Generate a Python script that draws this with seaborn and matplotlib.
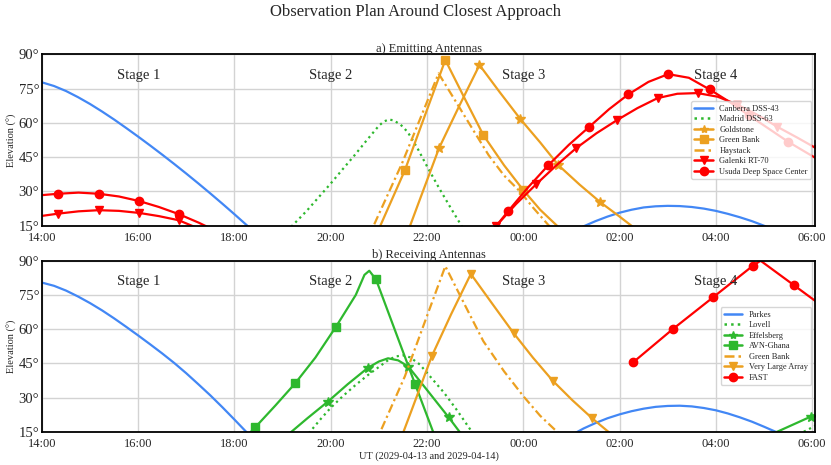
import matplotlib
matplotlib.use("Agg")
import matplotlib.pyplot as plt
from matplotlib.lines import Line2D
import seaborn as sns

# time axis: hours after 14:00 UT on 2029-04-13
tick_hours = [0, 2, 4, 6, 8, 10, 12, 14, 16]
tick_labels = ['14:00', '16:00', '18:00', '20:00', '22:00', '00:00', '02:00', '04:00', '06:00']
elev_ticks = [15, 30, 45, 60, 75, 90]
stage_names = ['Stage 1', 'Stage 2', 'Stage 3', 'Stage 4']
stage_hours = [2, 6, 10, 14]

# --- a) emitting antennas ---
canberra_t1 = [0, 0.25, 0.5, 0.75, 1, 1.25, 1.5, 1.75, 2, 2.25, 2.5, 2.75, 3, 3.25,
               3.5, 3.75, 4, 4.25, 4.5]
canberra_e1 = [77.8, 76.2, 74.0, 71.3, 68.3, 65.0, 61.5, 57.8, 54.0, 50.1, 46.1, 42.0,
               37.8, 33.5, 29.1, 24.6, 20.0, 15.3, 10.6]
canberra_t2 = [11.0, 11.25, 11.5, 11.75, 12.0, 12.25, 12.5, 12.75, 13.0, 13.25, 13.5,
               13.75, 14.0, 14.25, 14.5, 14.75, 15.0, 15.25, 15.5]
canberra_e2 = [12.0, 14.7, 17.0, 19.0, 20.7, 22.0, 23.0, 23.5, 23.7, 23.6, 23.2,
               22.5, 21.5, 20.2, 18.7, 17.0, 15.0, 12.8, 10.4]

madrid_t = [5.0, 5.2, 5.5, 5.75, 6.0, 6.25, 6.5, 6.75, 7.0, 7.1, 7.2, 7.3, 7.45, 7.6,
            7.8, 8.0, 8.25, 8.5, 8.75]
madrid_e = [11.0, 15.0, 21.5, 27.5, 33.5, 39.8, 46.0, 52.5, 58.8, 60.6, 61.5, 61.2,
            59.3, 56.0, 49.0, 41.0, 31.5, 22.5, 13.8]

goldstone_t = [7.42, 7.83, 8.25, 8.67, 9.09, 9.51, 9.94, 10.35, 10.73, 11.17, 11.60, 12.00, 12.40]
goldstone_e = [2.0, 25.3, 49.0, 67.5, 85.4, 73.5, 61.7, 51.5, 41.5, 33.0, 25.3, 19.0, 12.5]

greenbank_t = [6.90, 7.54, 7.96, 8.38, 8.80, 9.17, 9.60, 10.00, 10.35, 10.70, 11.00]
greenbank_e = [8.8, 39.3, 63.5, 87.6, 70.0, 54.7, 41.5, 30.6, 22.0, 15.0, 9.0]

haystack_t = [6.60, 6.89, 7.48, 8.24, 8.60, 9.00, 9.28, 9.60, 9.94, 10.20, 10.50, 10.80]
haystack_e = [1.0, 15.0, 42.3, 81.7, 69.3, 55.5, 45.9, 37.0, 29.8, 23.0, 15.8, 9.0]

galenki_t1 = [0.00, 0.34, 0.76, 1.18, 1.60, 2.02, 2.43, 2.84, 3.26]
galenki_e1 = [19.3, 20.3, 21.3, 21.8, 21.5, 20.6, 19.2, 17.4, 13.7]
galenki_t2 = [9.02, 9.44, 9.85, 10.27, 10.69, 11.10, 11.52, 11.95, 12.37, 12.79,
              13.20, 13.62, 14.04, 14.45, 14.87, 15.28, 15.70, 16.12]
galenki_e2 = [5.5, 15.0, 24.5, 33.2, 41.5, 49.0, 55.5, 61.3, 66.5, 70.9,
              72.8, 73.1, 71.5, 68.0, 63.5, 58.3, 53.5, 48.5]

usuda_t1 = [0.00, 0.34, 0.76, 1.18, 1.60, 2.02, 2.43, 2.84, 3.26, 3.68]
usuda_e1 = [28.4, 29.0, 29.5, 29.0, 27.8, 25.8, 23.2, 20.1, 16.3, 12.0]
usuda_t2 = [9.27, 9.69, 10.10, 10.52, 10.95, 11.37, 11.78, 12.18, 12.60, 13.01,
            13.44, 13.87, 14.28, 14.69, 15.10, 15.50, 15.90, 16.33]
usuda_e2 = [10.5, 21.5, 31.8, 41.5, 50.5, 58.3, 66.0, 72.5, 78.0, 81.4,
            79.8, 74.7, 69.3, 63.3, 57.5, 51.8, 46.8, 41.5]

# --- b) receiving antennas ---
parkes_t1 = [0, 0.25, 0.5, 0.75, 1, 1.25, 1.5, 1.75, 2, 2.25, 2.5, 2.75, 3, 3.25,
             3.5, 3.75, 4, 4.25, 4.5]
parkes_e1 = [80.4, 79.0, 76.9, 74.3, 71.4, 68.2, 64.7, 61.0, 57.2, 53.3, 49.3, 45.1,
             40.6, 35.8, 30.9, 25.7, 20.3, 14.8, 9.2]
parkes_t2 = [11.0, 11.25, 11.5, 11.75, 12.0, 12.25, 12.5, 12.75, 13.0, 13.25, 13.5,
             13.75, 14.0, 14.25, 14.5, 14.75, 15.0, 15.25, 15.5]
parkes_e2 = [13.5, 16.4, 18.8, 20.9, 22.6, 24.0, 25.1, 25.9, 26.3, 26.4, 26.1,
             25.4, 24.4, 23.0, 21.3, 19.4, 17.2, 14.9, 12.4]

lovell_t1 = [5.3, 5.57, 5.8, 6.0, 6.25, 6.5, 6.75, 7.0, 7.2, 7.35, 7.5, 7.65, 7.85,
             8.07, 8.35, 8.62, 8.93, 9.2]
lovell_e1 = [8.5, 15.0, 20.8, 25.5, 30.6, 35.2, 39.5, 43.4, 46.5, 48.0, 48.5, 47.6,
             44.5, 39.1, 32.2, 24.5, 15.0, 7.0]
lovell_t2 = [15.5, 15.83, 16.1, 16.4]
lovell_e2 = [11.5, 15.0, 18.0, 21.0]

effelsberg_t1 = [5.10, 5.52, 5.94, 6.35, 6.77, 7.00, 7.19, 7.40, 7.61, 8.03, 8.45, 8.87]
effelsberg_e1 = [13.5, 21.0, 28.2, 35.8, 43.0, 45.8, 47.2, 46.3, 43.6, 32.5, 21.3, 9.5]
effelsberg_t2 = [15.13, 15.55, 15.97, 16.38]
effelsberg_e2 = [13.6, 17.6, 21.6, 25.5]

avn_t = [4.02, 4.43, 4.85, 5.26, 5.68, 6.11, 6.52, 6.70, 6.80, 6.94, 7.35, 7.75, 8.17]
avn_e = [8.0, 16.9, 26.5, 36.2, 47.5, 61.1, 75.0, 83.8, 85.6, 81.8, 58.6, 36.0, 12.5]

vla_t = [7.28, 7.69, 8.10, 8.50, 8.91, 9.36, 9.80, 10.20, 10.61, 11.02, 11.43, 11.85]
vla_e = [2.0, 25.0, 48.2, 66.5, 84.2, 71.0, 58.2, 47.5, 37.4, 28.8, 20.9, 13.5]

fast_t = [12.28, 13.10, 13.94, 14.77, 14.93, 15.62, 16.45]
fast_e = [45.4, 59.9, 73.9, 87.8, 90.0, 79.3, 66.4]

BLUE = '#4287f5'
GREEN = '#2eb82e'
ORANGE = '#eca020'
RED = '#ff0000'
DASHDOT = (0, (4, 1.6, 1, 1.6))

# (label, colour, linestyle, marker, [(times, elevations, marker indices)])
emitting = [
    ('Canberra DSS-43', BLUE, '-', None,
     [(canberra_t1, canberra_e1, None), (canberra_t2, canberra_e2, None)]),
    ('Madrid DSS-63', GREEN, ':', None, [(madrid_t, madrid_e, None)]),
    ('Goldstone', ORANGE, '-', '*', [(goldstone_t, goldstone_e, [2, 4, 6, 8, 10])]),
    ('Green Bank', ORANGE, '-', 's', [(greenbank_t, greenbank_e, [1, 3, 5, 7])]),
    ('Haystack', ORANGE, DASHDOT, None, [(haystack_t, haystack_e, None)]),
    ('Galenki RT-70', RED, '-', 'v',
     [(galenki_t1, galenki_e1, (1, 2)), (galenki_t2, galenki_e2, (1, 2))]),
    ('Usuda Deep Space Center', RED, '-', 'o',
     [(usuda_t1, usuda_e1, (1, 2)), (usuda_t2, usuda_e2, (1, 2))]),
]
receiving = [
    ('Parkes', BLUE, '-', None,
     [(parkes_t1, parkes_e1, None), (parkes_t2, parkes_e2, None)]),
    ('Lovell', GREEN, ':', None,
     [(lovell_t1, lovell_e1, None), (lovell_t2, lovell_e2, None)]),
    ('Effelsberg', GREEN, '-', '*',
     [(effelsberg_t1, effelsberg_e1, [2, 4, 8, 10]), (effelsberg_t2, effelsberg_e2, [2])]),
    ('AVN-Ghana', GREEN, '-', 's', [(avn_t, avn_e, [1, 3, 5, 9, 11])]),
    ('Green Bank', ORANGE, DASHDOT, None, [(greenbank_t, greenbank_e, None)]),
    ('Very Large Array', ORANGE, '-', 'v', [(vla_t, vla_e, (2, 2))]),
    ('FAST', RED, '-', 'o', [(fast_t, fast_e, [0, 1, 2, 3, 5, 6])]),
]

sns.set_theme(style="whitegrid")
plt.rcParams['font.family'] = ['Liberation Serif', 'DejaVu Serif']

fig = plt.figure(figsize=(8.31, 4.65), dpi=100)
ax_top = fig.add_axes([0.0505, 0.5146, 0.9308, 0.3682])
ax_bot = fig.add_axes([0.0505, 0.0716, 0.9308, 0.3677])


def draw_panel(ax, series, title):
    handles, labels = [], []
    for label, color, ls, marker, segs in series:
        for t, e, mk in segs:
            sns.lineplot(x=t, y=e, ax=ax, color=color, linestyle=ls, linewidth=1.6,
                         marker=marker if mk is not None else None, markevery=mk,
                         markersize=7 if marker == '*' else 6,
                         markeredgecolor=color, markeredgewidth=1,
                         errorbar=None, sort=False)
        handles.append(Line2D([], [], color=color, linestyle=ls, linewidth=1.8,
                              marker=marker, markersize=6, markeredgecolor=color))
        labels.append(label)

    for name, h in zip(stage_names, stage_hours):
        ax.text(h, 81.0, name, ha='center', va='center', fontsize=10.5)

    ax.set_xlim(0, 16.07)
    ax.set_ylim(15, 90)
    ax.set_xticks(tick_hours)
    ax.set_xticklabels(tick_labels, fontsize=9)
    ax.set_yticks(elev_ticks)
    ax.set_yticklabels([f'{v}°' for v in elev_ticks], fontsize=10.5)
    ax.tick_params(axis='both', length=0)
    ax.tick_params(axis='x', pad=4.5)
    ax.tick_params(axis='y', pad=2)
    ax.set_ylabel('Elevation (°)', fontsize=7.5, labelpad=1)
    ax.set_xlabel('')
    ax.set_title(title, fontsize=9, pad=2)
    ax.grid(True, color='#d3d3d3', linewidth=1)
    for sp in ax.spines.values():
        sp.set_color('black')
        sp.set_linewidth(1.3)
    ax.legend(handles, labels, loc='center right', fontsize=6, labelspacing=0.3,
              frameon=True, framealpha=0.8, edgecolor='0.8', fancybox=True,
              borderpad=0.4, handlelength=2.2, handletextpad=0.8)


draw_panel(ax_top, emitting, 'a) Emitting Antennas')
draw_panel(ax_bot, receiving, 'b) Receiving Antennas')
ax_bot.set_xlabel('UT (2029-04-13 and 2029-04-14)', fontsize=7.5, labelpad=1)

fig.suptitle('Observation Plan Around Closest Approach', fontsize=12, y=0.975, va='center')

fig.savefig('out.png', dpi=100)
